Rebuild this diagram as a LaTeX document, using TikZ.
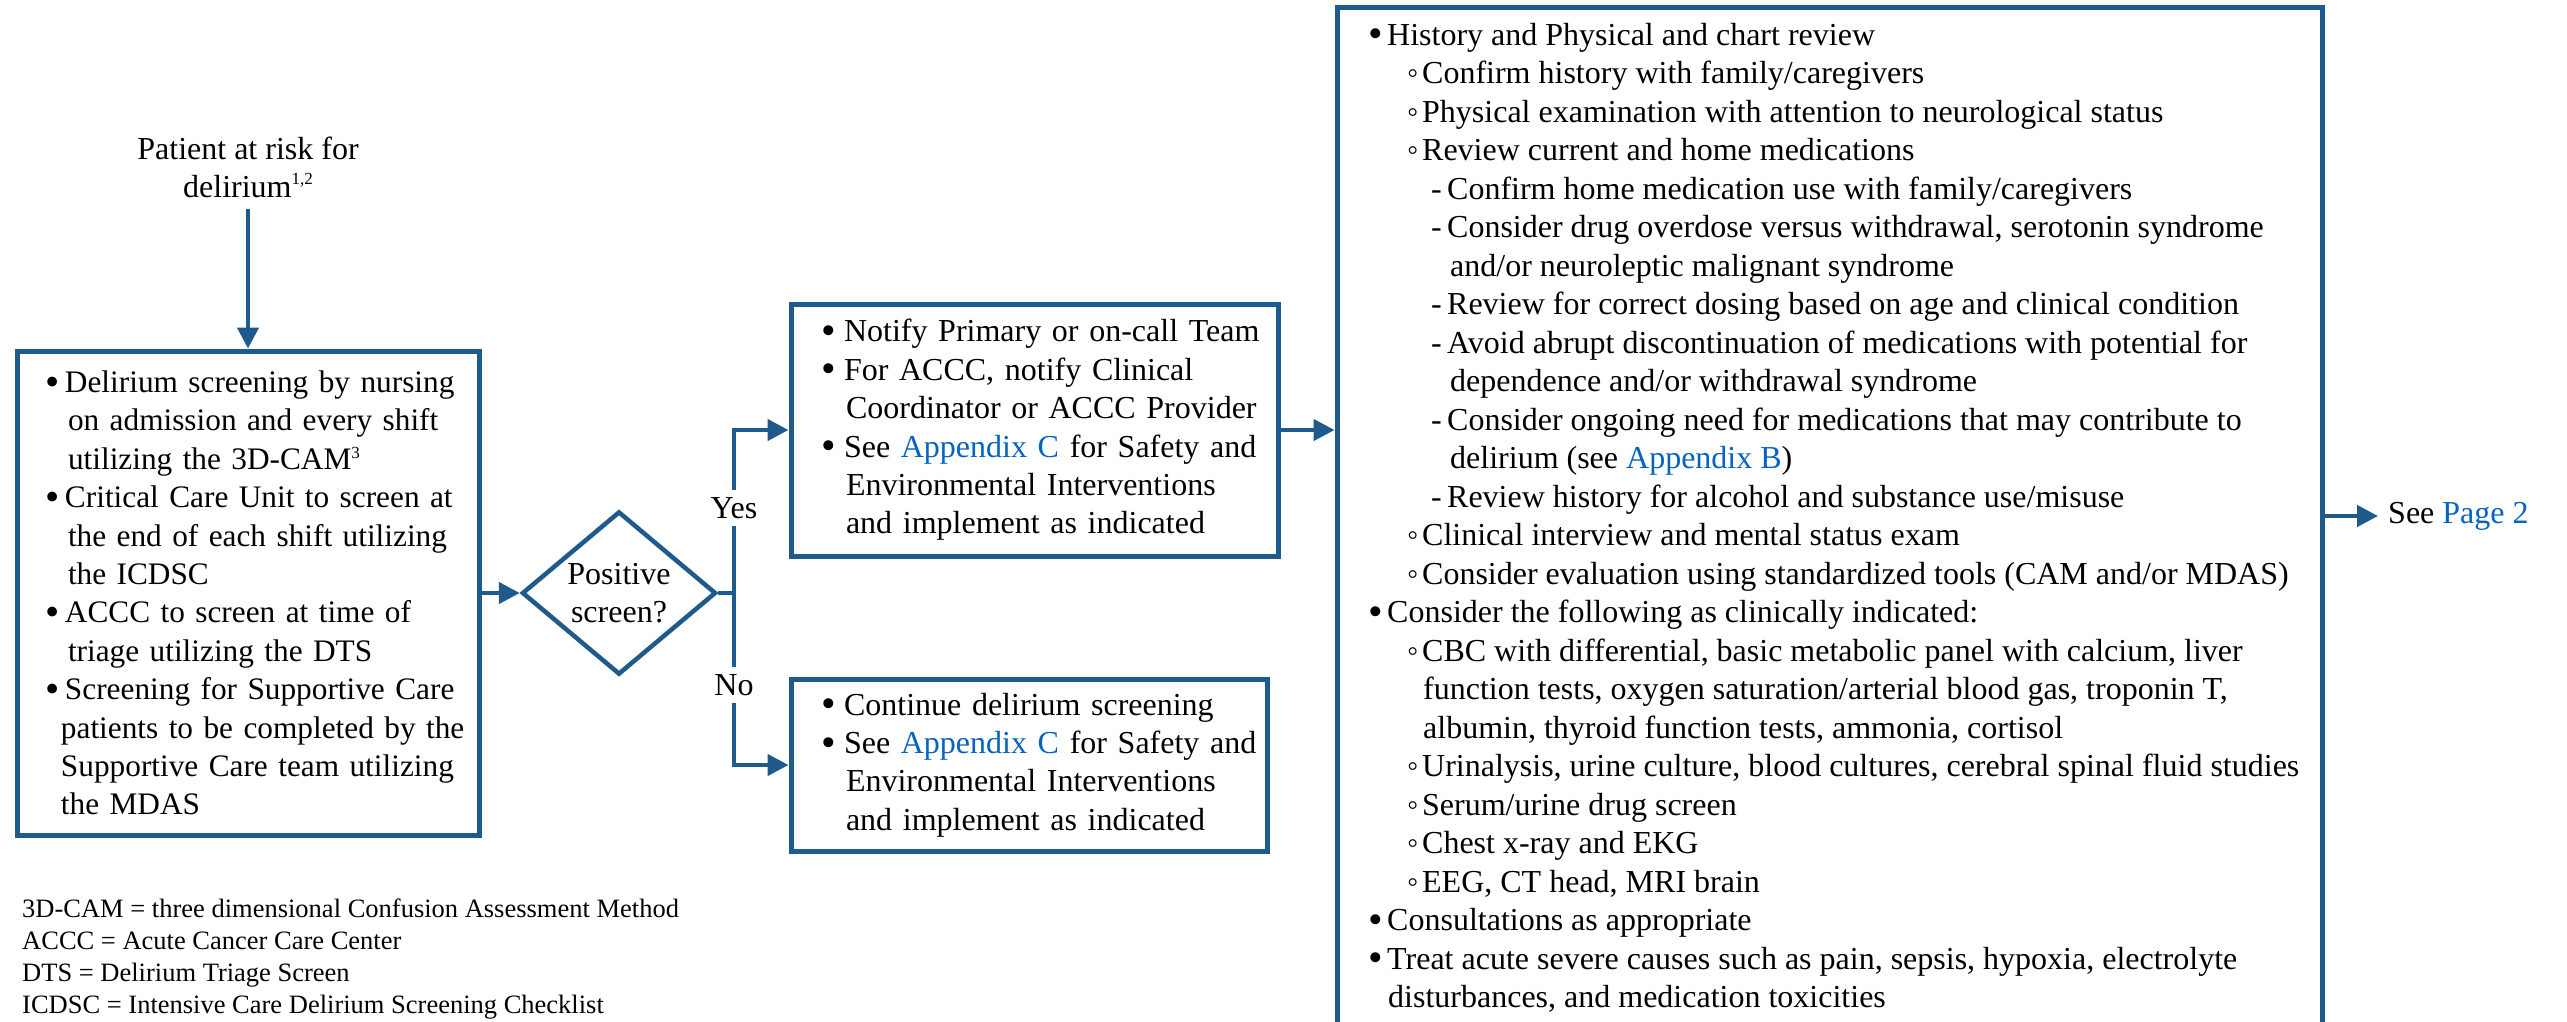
\documentclass[tikz,border=0pt]{standalone}
\usepackage{fontspec}
\setmainfont{Liberation Serif}
\usetikzlibrary{shapes.geometric,arrows.meta}
\definecolor{flow}{HTML}{1F5A8C}
\definecolor{linkblue}{HTML}{0563C1}
\newcommand\lnk[1]{\textcolor{linkblue}{#1}}
\newcommand\supnum[2]{\raisebox{#1}{\fontsize{17pt}{17pt}\selectfont #2}}
\newcommand\blt{\raisebox{-2.5pt}{\scalebox{1.3}{\textbullet}}}
% bullets for the left box
\newcommand\bA[1]{\mbox{\makebox[20pt][l]{\blt}#1}}
\newcommand\cA[1]{\mbox{\hspace*{23pt}#1}}
\newcommand\cAA[1]{\mbox{\hspace*{16pt}#1}}
% bullets for the middle boxes
\newcommand\bB[1]{\mbox{\makebox[23pt][l]{\blt}#1}}
\newcommand\cB[1]{\mbox{\hspace*{25pt}#1}}
% levels for the large box
\newcommand\Lone[1]{\mbox{\makebox[19pt][l]{\blt}#1}}
\newcommand\Cone[1]{\mbox{\hspace*{20pt}#1}}
\newcommand\Ltwo[1]{\mbox{\hspace*{39pt}\makebox[15pt][l]{◦}#1}}
\newcommand\Ctwo[1]{\mbox{\hspace*{55pt}#1}}
\newcommand\Lthree[1]{\mbox{\hspace*{63pt}\makebox[16pt][l]{-}#1}}
\newcommand\Cthree[1]{\mbox{\hspace*{82pt}#1}}
\begin{document}
\begin{tikzpicture}[x=1pt,y=-1pt,
  every node/.style={font=\fontsize{32pt}{38.4pt}\selectfont, text=black},
  boxnode/.style={draw=flow, line width=5pt, rectangle, align=left, inner ysep=0pt},
  conn/.style={draw=flow, line width=4.5pt},
  arr/.style={conn, -{Triangle[width=21pt,length=21pt]}},
  lab/.style={fill=white, inner xsep=2pt, inner ysep=7pt},
  legendtext/.style={font=\fontsize{26.5pt}{32pt}\selectfont, align=left, inner sep=0pt, anchor=north west}]
\useasboundingbox (0,0) rectangle (2567,1021);
\fill[white] (0,0) rectangle (2567,1021);
\clip (0,0) rectangle (2567,1021);

% start text
\node (patient) [align=center, inner sep=0pt, anchor=north] at (248,132.1)
  {\strut Patient at risk for\\delirium\supnum{13pt}{1,2}\strut};

% screening box
\node (screen) [boxnode, font=\fontsize{31.3pt}{38.4pt}\selectfont, minimum width=462pt, minimum height=484pt, text width=406pt, inner xsep=28pt] at (248,593) {%
\bA{Delirium screening by nursing}\\
\cA{on admission and every shift}\\
\cA{utilizing the 3D-CAM\supnum{11pt}{3}}\\
\bA{Critical Care Unit to screen at}\\
\cA{the end of each shift utilizing}\\
\cA{the ICDSC}\\
\bA{ACCC to screen at time of}\\
\cA{triage utilizing the DTS}\\
\bA{Screening for Supportive Care}\\
\cAA{patients to be completed by the}\\
\cAA{Supportive Care team utilizing}\\
\cAA{the MDAS}};

% decision
\node (dec) [diamond, draw=flow, line width=4.5pt, minimum width=194pt, minimum height=152pt, inner sep=0pt, align=center] at (619,593) {Positive\\screen?};

% yes box
\node (yes) [boxnode, minimum width=487pt, minimum height=252pt, text width=427pt, inner xsep=30pt] at (1034.5,430) {%
\bB{Notify Primary or on-call Team}\\
\bB{For ACCC, notify Clinical}\\
\cB{Coordinator or ACCC Provider}\\
\bB{See \lnk{Appendix C} for Safety and}\\
\cB{Environmental Interventions}\\
\cB{and implement as indicated}};

% no box
\node (no) [boxnode, minimum width=476pt, minimum height=172pt, text width=416pt, inner xsep=30pt] at (1029,765) {%
\bB{Continue delirium screening}\\
\bB{See \lnk{Appendix C} for Safety and}\\
\cB{Environmental Interventions}\\
\cB{and implement as indicated}};

% big box (runs past the bottom edge)
\node (big) [draw=flow, line width=5pt, rectangle, minimum width=985pt, minimum height=1033pt, inner sep=0pt] at (1829.5,523.5) {};
\node (bigtext) [font=\fontsize{32pt}{38.5pt}\selectfont, align=left, inner sep=0pt, anchor=north west] at (1368,18.05) {%
\strut\Lone{History and Physical and chart review}\\
\Ltwo{Confirm history with family/caregivers}\\
\Ltwo{Physical examination with attention to neurological status}\\
\Ltwo{Review current and home medications}\\
\Lthree{Confirm home medication use with family/caregivers}\\
\Lthree{Consider drug overdose versus withdrawal, serotonin syndrome}\\
\Cthree{and/or neuroleptic malignant syndrome}\\
\Lthree{Review for correct dosing based on age and clinical condition}\\
\Lthree{Avoid abrupt discontinuation of medications with potential for}\\
\Cthree{dependence and/or withdrawal syndrome}\\
\Lthree{Consider ongoing need for medications that may contribute to}\\
\Cthree{delirium (see \lnk{Appendix B})}\\
\Lthree{Review history for alcohol and substance use/misuse}\\
\Ltwo{Clinical interview and mental status exam}\\
\Ltwo{Consider evaluation using standardized tools (CAM and/or MDAS)}\\
\Lone{Consider the following as clinically indicated:}\\
\Ltwo{CBC with differential, basic metabolic panel with calcium, liver}\\
\Ctwo{function tests, oxygen saturation/arterial blood gas, troponin T,}\\
\Ctwo{albumin, thyroid function tests, ammonia, cortisol}\\
\Ltwo{Urinalysis, urine culture, blood cultures, cerebral spinal fluid studies}\\
\Ltwo{Serum/urine drug screen}\\
\Ltwo{Chest x-ray and EKG}\\
\Ltwo{EEG, CT head, MRI brain}\\
\Lone{Consultations as appropriate}\\
\Lone{Treat acute severe causes such as pain, sepsis, hypoxia, electrolyte}\\
\Cone{disturbances, and medication toxicities}};

% see page 2
\node (pg) [anchor=west, inner xsep=10pt, inner ysep=0pt] at (2378,516) {See \lnk{Page 2}};

% legend
\node (abbr) [legendtext] at (22,894.6) {\strut 3D-CAM = three dimensional Confusion Assessment Method\\
ACCC = Acute Cancer Care Center\\
DTS = Delirium Triage Screen\\
ICDSC = Intensive Care Delirium Screening Checklist};

% connectors
\coordinate (J) at (734,593);
\draw[arr] (patient.south) -- (screen.north);
\draw[arr] (screen.east) -- (dec.west);
\draw[conn] (dec.east) -- (J);
\draw[arr] (J) -- (J |- yes.west) -- (yes.west);
\draw[arr] (J) -- (J |- no.west) -- (no.west);
\draw[arr] (yes.east) -- (yes.east -| big.west);
\draw[arr] (big.east |- pg.west) -- (pg.west);
\node (yeslab) [lab] at (734,508) {Yes};
\node (nolab) [lab] at (734,685) {No};
\end{tikzpicture}
\end{document}
